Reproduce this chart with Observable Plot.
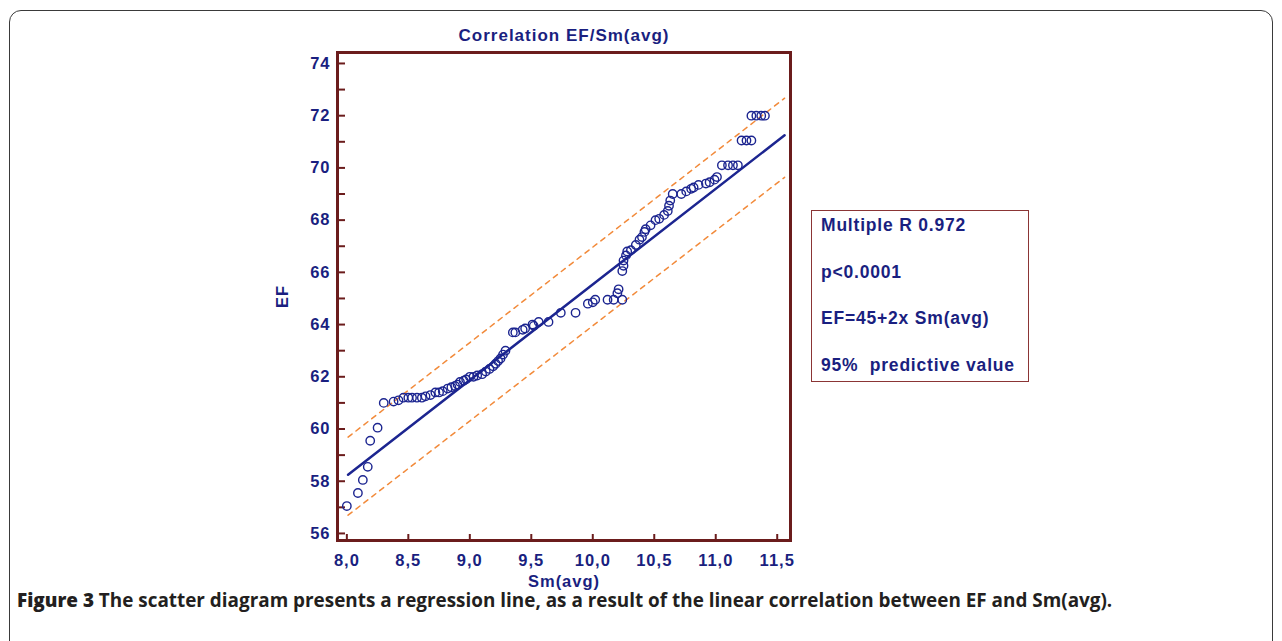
<!DOCTYPE html>
<html>
<head>
<meta charset="utf-8">
<script src="https://cdn.jsdelivr.net/npm/d3@7"></script>
<script src="https://cdn.jsdelivr.net/npm/@observablehq/plot@0.6"></script>
<style>
  html, body { margin: 0; padding: 0; background: #fff; }
  #wrap { position: relative; width: 1282px; height: 641px; overflow: hidden; background: #fff; }
  #border { position: absolute; left: 9px; top: 10px; width: 1264px; height: 650px; border: 1.5px solid #3a3a3a; border-radius: 12px; box-sizing: border-box; }
  #chart { position: absolute; left: 0; top: 0; }
  #chart svg text { letter-spacing: 1px; }
  #legend { position: absolute; left: 811px; top: 210px; width: 218px; height: 172px; border: 1.5px solid #8b3535; box-sizing: border-box;
            font-family: "Liberation Sans", Arial, sans-serif; font-weight: bold; font-size: 17.5px; letter-spacing: 0.8px; color: #1a1f80; }
  #legend div { position: absolute; left: 9px; white-space: pre; }
  #caption { position: absolute; left: 17px; top: 587px; font-family: "Open Sans", sans-serif; font-size: 18.9px; font-weight: bold; color: #231f20; white-space: nowrap; }
</style>
</head>
<body>
<div id="wrap">
  <div id="border"></div>
  <div id="chart"></div>
  <div id="legend"></div>
  <div id="caption"></div>
</div>
<script>
// ---- data ----
const sm = [8.00,8.09,8.13,8.17,8.19,8.25,8.30,8.38,8.42,8.46,8.50,8.53,8.57,8.61,8.64,8.68,8.72,8.75,8.78,8.82,8.85,8.88,8.90,8.92,8.95,8.97,9.00,9.03,9.06,9.10,9.13,9.16,9.19,9.21,9.23,9.25,9.27,9.29,9.35,9.37,9.43,9.45,9.51,9.52,9.56,9.64,9.74,9.86,9.96,10.00,10.02,10.12,10.17,10.20,10.21,10.24,10.24,10.25,10.25,10.27,10.28,10.31,10.35,10.38,10.40,10.42,10.43,10.47,10.51,10.54,10.58,10.61,10.62,10.63,10.65,10.72,10.76,10.80,10.82,10.86,10.92,10.95,10.99,11.01,11.05,11.10,11.14,11.18,11.21,11.25,11.29,11.29,11.33,11.37,11.40];
const ef = [57.05,57.55,58.05,58.55,59.55,60.05,61.0,61.05,61.1,61.2,61.2,61.2,61.2,61.2,61.25,61.3,61.4,61.4,61.45,61.55,61.6,61.65,61.7,61.8,61.85,61.9,62.0,62.0,62.05,62.1,62.2,62.3,62.4,62.5,62.6,62.7,62.85,63.0,63.7,63.7,63.8,63.85,64.0,63.95,64.1,64.1,64.45,64.45,64.8,64.85,64.95,64.95,64.95,65.2,65.35,64.95,66.05,66.25,66.45,66.65,66.8,66.85,67.05,67.25,67.35,67.55,67.65,67.8,68.0,68.05,68.2,68.35,68.55,68.75,69.0,69.0,69.1,69.2,69.25,69.35,69.4,69.45,69.55,69.65,70.1,70.1,70.1,70.1,71.05,71.05,71.05,72.0,72.0,72.0,72.0];
// regression line and 95% prediction band
const lineX = [8.01, 11.56];
const lineY = [58.25, 71.25];
const upperY = [59.69, 72.67];
const lowerY = [56.70, 69.64];
const xTicks = [8.0, 8.5, 9.0, 9.5, 10.0, 10.5, 11.0, 11.5];
const yLabelTicks = [56, 58, 60, 62, 64, 66, 68, 70, 72, 74];
const yMinorTicks = [56, 57, 58, 59, 60, 61, 62, 63, 64, 65, 66, 67, 68, 69, 70, 71, 72, 73, 74];
const xDomain = [7.924, 11.608];
const yDomain = [55.73, 74.42];
const title = "Correlation EF/Sm(avg)";
const legendLines = ["Multiple R 0.972", "p<0.0001", "EF=45+2x Sm(avg)", "95%  predictive value"];

const points = sm.map((x, i) => ({x, y: ef[i]}));
const reg = lineX.map((x, i) => ({x, y: lineY[i]}));
const up = lineX.map((x, i) => ({x, y: upperY[i]}));
const lo = lineX.map((x, i) => ({x, y: lowerY[i]}));

const navy = "#1a1f80";
const frameCol = "#6b1c1c";
const W = 1282, H = 600;
const mL = 337, mR = W - 790, mT = 52, mB = H - 540;
const fw = W - mL - mR, fh = H - mT - mB;

const chart = Plot.plot({
  width: W, height: H,
  marginLeft: mL, marginRight: mR, marginTop: mT, marginBottom: mB,
  style: {fontFamily: "Liberation Sans, Arial, sans-serif", fontWeight: "bold", fontSize: "16.5px", color: navy, background: "transparent"},
  x: {domain: xDomain},
  y: {domain: yDomain},
  marks: [
    Plot.axisX({ticks: xTicks, tickSize: 0, tickPadding: 14, tickFormat: d => d.toFixed(1).replace(".", ","), label: "Sm(avg)", labelAnchor: "center", labelArrow: "none", labelOffset: 46, fill: navy, fontSize: 16.5}),
    Plot.axisY({ticks: yLabelTicks, tickSize: 0, tickPadding: 7, label: "EF", labelAnchor: "center", labelArrow: "none", labelOffset: 61, fill: navy, fontSize: 16.5}),
    Plot.ruleX(xTicks, {stroke: frameCol, strokeWidth: 2, insetTop: fh - 6}),
    Plot.ruleY(yMinorTicks, {stroke: frameCol, strokeWidth: 2, insetRight: fw - 8}),
    Plot.line(up, {x: "x", y: "y", stroke: "#f28a3a", strokeWidth: 1.5, strokeDasharray: "5,5"}),
    Plot.line(lo, {x: "x", y: "y", stroke: "#f28a3a", strokeWidth: 1.5, strokeDasharray: "5,5"}),
    Plot.line(reg, {x: "x", y: "y", stroke: "#1c2590", strokeWidth: 2.5}),
    Plot.dot(points, {x: "x", y: "y", r: 4.2, stroke: "#1c2590", strokeWidth: 1.4, fill: "none"}),
    Plot.frame({stroke: frameCol, strokeWidth: 3}),
    Plot.text([title], {frameAnchor: "top", dy: -24, fill: navy, fontSize: 17, fontWeight: "bold"})
  ]
});
document.getElementById("chart").appendChild(chart);

const lg = document.getElementById("legend");
legendLines.forEach((t, i) => {
  const d = document.createElement("div");
  d.textContent = t;
  d.style.top = (4 + i * 46.5) + "px";
  lg.appendChild(d);
});
document.getElementById("caption").innerHTML = "<span style='font-weight:800'>Figure 3</span> The scatter diagram presents a regression line, as a result of the linear correlation between EF and Sm(avg).";
</script>
</body>
</html>
